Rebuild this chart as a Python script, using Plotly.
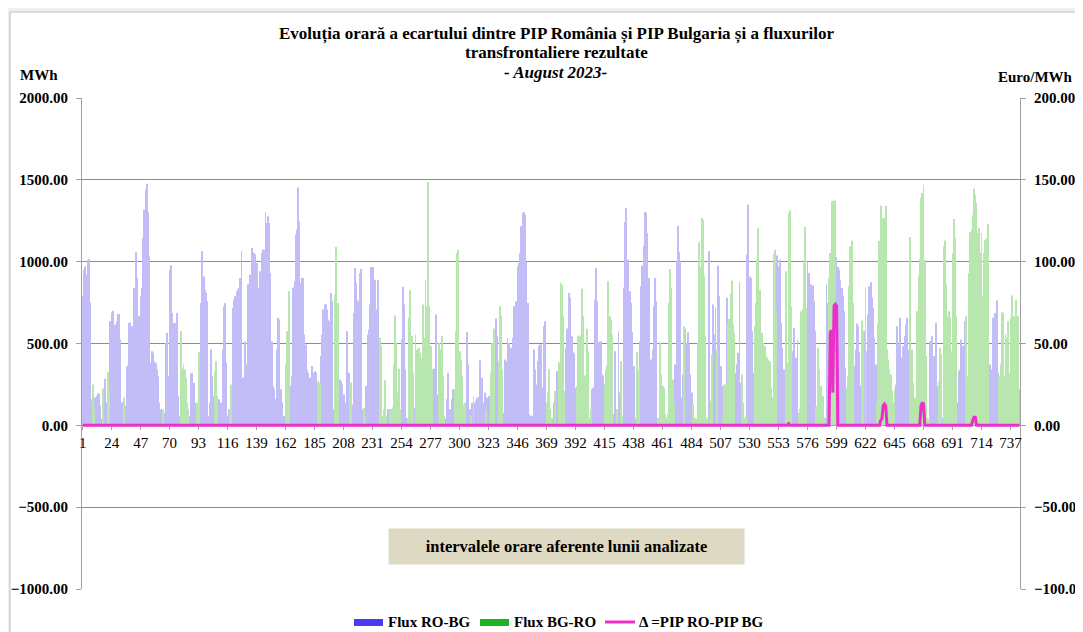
import plotly.graph_objects as go

# ---------------- data (hourly values, August 2023, 31 days x 24 h) ----------------
ro_bg_days = [
    [790,950,970,920,1010,1015,750,160,0,0,170,180,195,195,120,40,0,40,285,140,0,0,636,690],
    [700,605,615,636,680,680,525,140,90,0,120,360,365,625,630,605,505,840,1057,900,505,667,790,840],
    [1145,1317,1440,1476,1300,1033,382,453,443,392,382,341,300,138,98,67,0,77,505,565,300,950,980,687],
    [626,626,616,687,179,57,0,0,0,0,0,0,0,57,317,321,260,138,57,0,0,138,748,1063],
    [910,830,809,758,57,138,463,300,179,0,0,0,159,98,138,463,728,748,382,57,98,0,0,717],
    [768,789,819,830,840,900,1063,290,290,510,372,860,860,920,1083,1053,1053,1043,992,362,840,941,1053,1073],
    [1073,1303,1236,1277,1236,931,514,240,220,159,463,657,646,220,138,57,57,0,0,0,0,240,300,840],
    [880,1165,1195,1453,1246,870,900,900,555,494,341,321,290,169,362,321,331,321,118,0,0,423,555,707],
    [738,738,707,646,636,809,758,98,0,0,0,0,280,270,250,189,77,138,575,321,0,0,128,687],
    [962,870,768,758,931,955,98,0,0,240,555,585,738,968,968,687,890,707,890,57,0,0,0,0],
    [0,0,98,57,0,0,0,0,0,0,0,0,0,525,846,738,341,45,0,0,0,0,0,108],
    [0,0,0,0,0,0,0,0,0,0,0,0,0,0,341,345,677,189,57,0,0,0,0,0],
    [40,159,321,100,98,159,220,0,0,0,0,0,0,0,0,0,57,569,372,98,0,138,0,138],
    [150,169,174,398,270,290,138,200,0,170,179,179,0,0,0,590,653,545,0,0,0,0,77,402],
    [392,535,504,341,474,535,728,575,758,972,992,1053,1216,1297,1303,1287,1000,748,67,57,61,57,463,341],
    [250,392,484,494,494,230,606,636,0,0,0,0,0,45,138,0,331,189,0,0,0,0,0,470],
    [585,596,809,779,545,447,439,230,0,0,0,0,0,0,0,0,0,0,0,0,220,230,768,962],
    [758,504,514,514,311,305,0,0,0,0,0,0,0,67,453,45,0,575,200,0,0,840,1242,1327],
    [1012,1012,819,748,571,362,45,45,0,0,514,850,976,1094,1303,1297,1175,900,382,402,463,728,900,758],
    [0,0,0,0,0,0,0,0,0,0,0,0,0,0,372,1002,1220,1057,1002,169,311,0,590,504],
    [569,494,311,200,0,0,0,0,0,0,0,0,0,0,0,0,0,1063,0,0,738,555,718,0],
    [976,789,362,240,0,0,0,779,0,0,0,0,0,0,321,372,443,876,260,0,0,0,0,1043],
    [1348,910,900,575,321,0,0,0,0,0,0,0,0,0,0,0,0,0,0,0,0,0,0,1037],
    [972,1012,626,474,341,260,0,0,0,0,0,453,596,382,413,525,0,0,0,0,0,0,0,1002],
    [931,738,860,854,758,575,0,0,0,0,0,0,0,45,860,748,0,0,0,0,0,0,1029,968],
    [951,890,840,793,697,352,0,0,0,0,0,0,362,463,622,606,447,240,0,0,575,0,453,677],
    [850,874,779,718,535,372,0,0,0,0,0,0,0,0,0,0,0,0,0,0,0,250,606,494],
    [657,407,413,484,545,616,657,463,0,0,0,0,0,0,0,0,0,0,0,0,0,0,0,0],
    [514,484,545,423,382,626,240,0,0,0,45,0,0,0,0,0,0,0,0,0,0,0,138,331],
    [341,525,484,362,636,0,0,0,0,0,0,0,0,0,0,0,0,0,0,0,0,0,0,341],
    [372,341,657,636,687,762,321,0,0,0,0,0,0,0,0,0,0,0,0,0,0,0,0,220],
]

bg_ro_days = [
    [0,0,0,0,0,0,0,0,250,100,0,0,0,0,0,0,225,0,0,0,325,210,0,0],
    [0,0,0,0,0,0,0,0,0,170,0,0,0,0,0,0,0,0,0,0,0,0,0,0],
    [0,0,0,0,0,0,0,0,0,0,0,0,0,0,0,0,98,0,0,0,0,0,0,0],
    [0,0,0,0,0,0,575,345,372,341,290,138,98,0,0,0,0,0,0,138,447,0,0,0],
    [0,0,0,0,0,0,0,0,0,331,392,179,0,0,0,0,0,0,0,0,0,98,250,0],
    [0,0,0,0,0,0,0,0,0,0,0,0,0,0,0,0,0,0,0,0,0,0,0,0],
    [0,0,0,0,0,0,0,0,0,0,0,0,0,0,0,0,0,372,575,575,819,0,0,0],
    [0,0,0,0,0,0,0,0,0,0,0,0,0,0,0,0,0,0,0,270,260,0,0,0],
    [0,0,0,0,0,0,0,0,799,1090,748,748,0,0,0,0,0,0,0,0,260,260,0,0],
    [0,0,0,0,0,0,0,108,57,0,0,0,0,0,0,0,0,0,0,0,535,484,57,98],
    [276,57,0,0,100,100,110,372,671,504,200,345,100,0,0,0,0,0,40,657,825,545,321,0],
    [555,463,200,474,443,413,738,535,890,728,1486,728,484,341,0,0,0,0,0,504,463,545,300,57],
    [0,0,0,0,0,0,0,220,575,1053,1073,453,402,300,128,138,0,0,0,0,57,0,179,0],
    [0,0,0,0,0,0,0,0,98,0,0,0,321,504,590,0,0,0,392,728,671,341,0,0],
    [0,0,0,0,0,0,0,0,0,0,0,0,0,0,0,0,0,0,0,0,0,0,0,0],
    [0,0,0,0,0,0,0,0,138,200,345,100,45,0,0,210,0,0,386,874,860,667,210,0],
    [0,0,0,0,0,0,0,0,240,545,549,545,834,667,305,305,590,453,45,98,0,0,0,0],
    [0,0,0,0,0,0,250,341,362,880,667,646,555,0,0,0,98,0,0,392,57,0,0,0],
    [0,0,0,0,0,0,0,0,447,341,0,0,0,0,0,0,0,0,0,0,0,0,0,0],
    [45,45,508,311,240,230,67,45,67,748,955,840,280,138,0,0,0,0,0,0,0,606,0,0],
    [0,0,0,0,128,45,45,40,504,1118,968,1267,1256,915,545,45,45,0,150,433,0,0,0,463],
    [0,0,0,0,45,250,250,0,626,651,805,884,616,565,0,0,0,0,0,311,138,45,57,0],
    [0,0,0,0,0,606,748,1012,1205,829,525,565,504,484,423,413,402,392,230,170,1047,1073,697,0],
    [0,0,0,0,0,0,941,382,1297,1313,728,0,0,0,0,0,77,102,697,711,992,1212,718,0],
    [0,0,0,0,0,0,118,474,341,57,240,179,45,0,0,0,900,1053,1368,1372,1372,1372,0,0],
    [0,0,0,0,0,0,230,300,850,1094,1128,748,0,0,0,0,0,0,640,575,0,844,0,0],
    [0,0,0,0,0,0,138,622,1128,1342,1267,1267,1267,1342,463,402,341,311,210,138,220,0,0,0],
    [0,0,0,0,0,0,0,0,1151,260,463,260,169,150,697,915,1017,1389,1419,1470,1012,423,45,40],
    [0,0,0,0,0,0,0,270,474,433,0,1094,1130,860,667,697,657,453,1053,1260,1144,667,0,0],
    [0,0,0,0,0,667,300,931,1179,1195,1283,1445,1409,1358,1175,1205,1053,1175,789,1053,1134,1144,1230,0],
    [0,0,0,0,0,0,0,300,372,691,687,300,559,535,636,321,657,793,341,667,768,636,667,0],
]

# price spread (Euro/MWh): non-zero hours only, zero elsewhere
delta_hours = [561, 594, 595, 596, 597, 598, 599, 634, 635, 636, 637, 638, 666, 667, 668, 707, 708, 709]
delta_values = [1, 57, 58, 20, 73, 74, 73, 3, 4, 12, 13, 12, 12, 14, 13, 3, 5, 5]

tick_hours = [1, 24, 47, 70, 93, 116, 139, 162, 185, 208, 231, 254, 277, 300, 323, 346, 369,
              392, 415, 438, 461, 484, 507, 530, 553, 576, 599, 622, 645, 668, 691, 714, 737]

# ---------------- build series ----------------
for i, (a, b) in enumerate(zip(ro_bg_days, bg_ro_days)):
    assert len(a) == 24 and len(b) == 24, f"day {i+1}: {len(a)} {len(b)}"
ro_bg = [v for day in ro_bg_days for v in day]
bg_ro = [v for day in bg_ro_days for v in day]
hours = list(range(1, len(ro_bg) + 1))
delta = [0.0] * len(hours)
for h, v in zip(delta_hours, delta_values):
    delta[h - 1] = v

PURPLE_BAR = "#c2bdf6"
GREEN_BAR = "#b7e6af"
BLUE_LEG = "#4a3af0"
GREEN_LEG = "#1fb31f"
MAGENTA = "#ec2fca"
GRID = "#8c8c8c"
AXIS = "#a0a0a0"
SERIF = "Liberation Serif"

fig = go.Figure()
fig.add_trace(go.Bar(x=hours, y=ro_bg, name="Flux RO-BG", showlegend=False,
                     marker=dict(color=PURPLE_BAR, line=dict(width=0))))
fig.add_trace(go.Bar(x=hours, y=bg_ro, name="Flux BG-RO", showlegend=False,
                     marker=dict(color=GREEN_BAR, line=dict(width=0))))
fig.add_trace(go.Scatter(x=hours, y=delta, yaxis="y2", mode="lines", name="Δ =PIP RO-PIP BG",
                         showlegend=False, line=dict(color=MAGENTA, width=3)))

# The page body has an 8px margin: positions below are given in window pixels
OFF = 8
W, H = 1083 - OFF, 632 - OFF
L, R, T, B = 82 - OFF, 1020 - OFF, 98 - OFF, 589 - OFF   # plot area in figure pixels

def px(x):
    return (x - OFF - L) / (R - L)

def py(y):
    return (B - (y - OFF)) / (B - T)

fig.update_layout(
    width=W, height=H,
    margin=dict(l=L, r=W - R, t=T, b=H - B, pad=0, autoexpand=False),
    paper_bgcolor="#efefef",
    plot_bgcolor="rgba(0,0,0,0)",
    barmode="overlay",
    bargap=0.3,
    showlegend=False,
    font=dict(family=SERIF, color="black"),
    xaxis=dict(range=[0.5, 744.5], tickmode="array", tickvals=tick_hours,
               ticktext=[str(t) for t in tick_hours],
               tickfont=dict(family=SERIF, size=15, color="black"),
               ticks="outside", ticklen=3, tickcolor=AXIS, automargin=False,
               showgrid=False, zeroline=False, showline=False,
               anchor="free", position=py(426)),
    yaxis=dict(range=[-1000, 2000], tick0=0, dtick=500, tickformat=".2f",
               tickfont=dict(family=SERIF, size=15, color="black", weight="bold"),
               showgrid=True, gridcolor=GRID, gridwidth=1, zeroline=False,
               showline=True, linecolor=AXIS, linewidth=1, automargin=False,
               ticks="outside", ticklen=5, tickcolor=AXIS, ticklabelstandoff=5),
    yaxis2=dict(range=[-100, 200], tick0=0, dtick=50, tickformat=".2f",
                overlaying="y", side="right", automargin=False,
                tickfont=dict(family=SERIF, size=15, color="black", weight="bold"),
                showgrid=False, zeroline=False, showline=True, linecolor=AXIS, linewidth=1,
                ticks="outside", ticklen=5, tickcolor=AXIS, ticklabelstandoff=5),
)

shapes = [
    # white chart area with gray frame
    dict(type="rect", xref="paper", yref="paper", x0=px(10), x1=px(1100), y0=py(660), y1=py(12),
         fillcolor="white", line=dict(color="#bdbdbd", width=1), layer="below"),
    # legend swatches
    dict(type="rect", xref="paper", yref="paper", x0=px(354), x1=px(383), y0=py(626), y1=py(619),
         fillcolor=BLUE_LEG, line=dict(width=0)),
    dict(type="rect", xref="paper", yref="paper", x0=px(480), x1=px(509), y0=py(626), y1=py(619),
         fillcolor=GREEN_LEG, line=dict(width=0)),
    dict(type="line", xref="paper", yref="paper", x0=px(605), x1=px(635), y0=py(622), y1=py(622),
         line=dict(color=MAGENTA, width=3)),
]

def ann(text, x, y, size=15, xanchor="center", **kw):
    d = dict(text=text, x=px(x), y=py(y), xref="paper", yref="paper", showarrow=False,
             xanchor=xanchor, yanchor="middle", font=dict(family=SERIF, size=size, color="black"))
    d.update(kw)
    return d

annotations = [
    ann("<b>Evoluția orară a ecartului dintre PIP România și PIP Bulgaria și a fluxurilor</b>", 556, 34, size=17, borderpad=0),
    ann("<b>transfrontaliere rezultate</b>", 556, 53, size=17, borderpad=0),
    ann("<b><i>- August 2023-</i></b>", 556, 72, size=17, borderpad=0),
    ann("<b>MWh</b>", 39, 75),
    ann("<b>Euro/MWh</b>", 1035, 77),
    ann("<b>intervalele orare aferente lunii analizate</b>", 566, 546, size=16.5,
        bgcolor="#ddd9c3", width=353, height=33),
    ann("<b>Flux RO-BG</b>", 386, 622, xanchor="left"),
    ann("<b>Flux BG-RO</b>", 512, 622, xanchor="left"),
    ann("<b>Δ =PIP RO-PIP BG</b>", 637, 622, xanchor="left"),
]

fig.update_layout(shapes=shapes, annotations=annotations)
fig.write_html("out.html")
